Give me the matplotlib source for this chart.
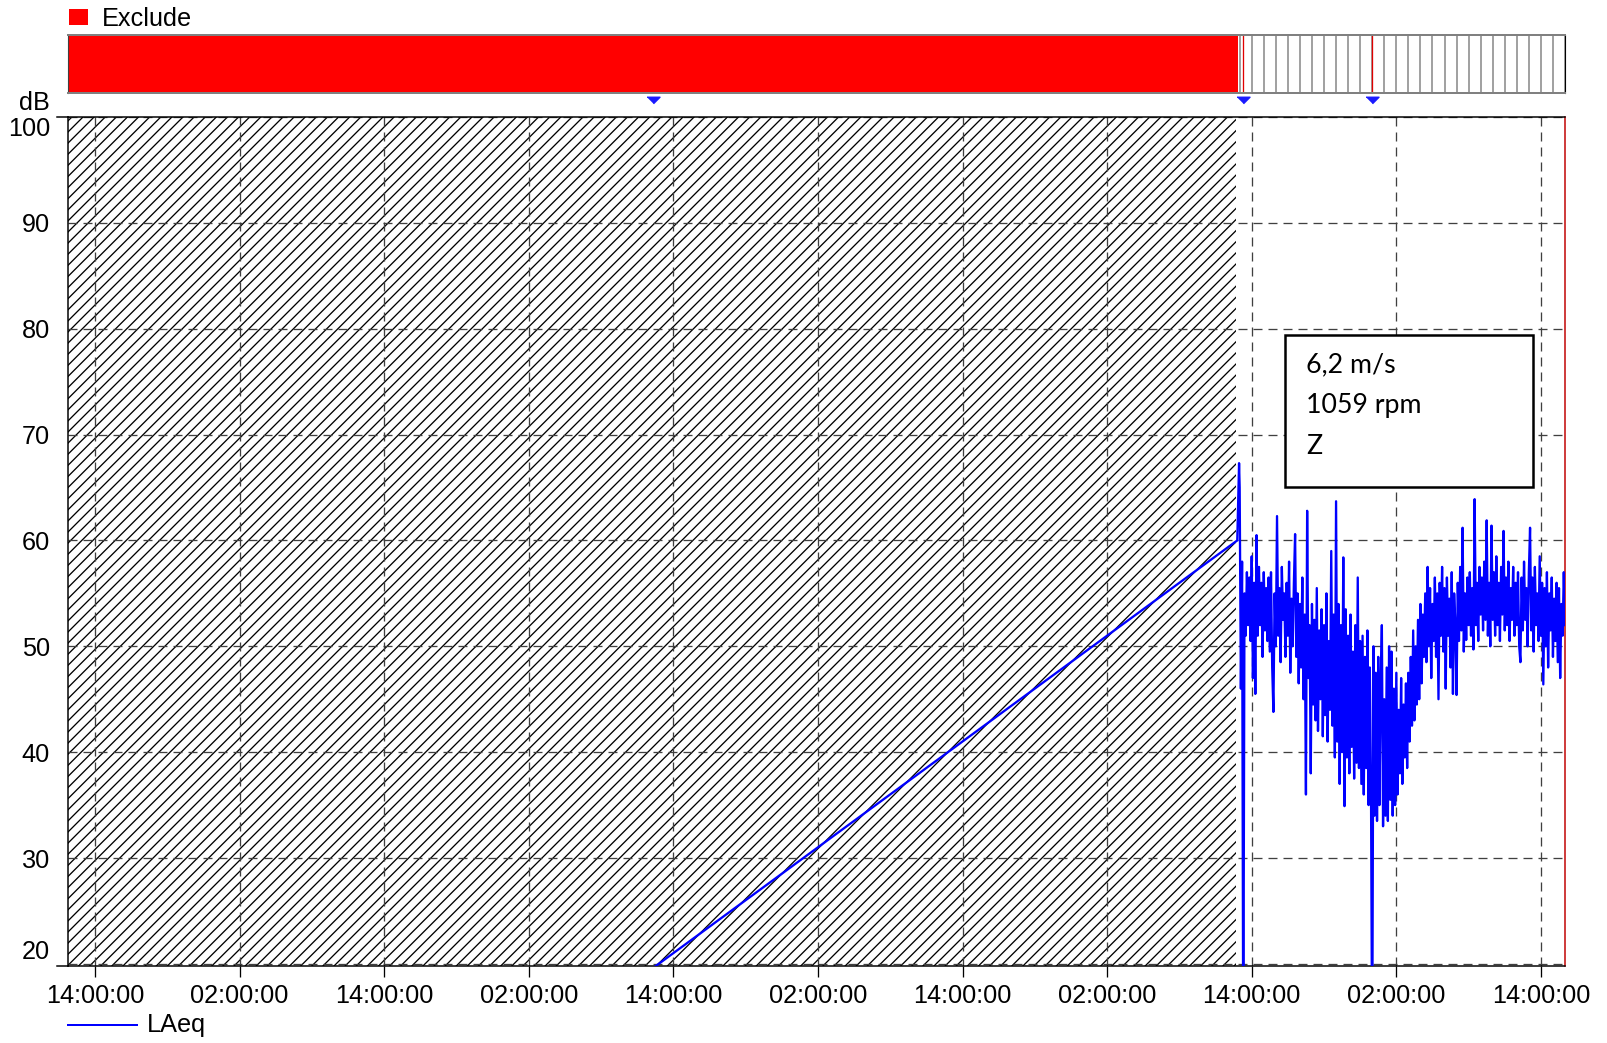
import numpy as np
import pandas as pd
import matplotlib
matplotlib.use('Agg')
import matplotlib.pyplot as plt
import matplotlib.dates as mdates
from matplotlib.patches import Rectangle
from matplotlib.lines import Line2D

# ---- data -------------------------------------------------------------
# hours counted from the first labelled 14:00:00 tick
view_hours = [-2.24, 122.0]
exclude_hours = [-2.24, 94.85]      # red "Exclude" block in the top strip
hatch_hours = [-2.24, 94.7]         # hatched (excluded) part of the plot
marker_hours = [46.3, 95.3, 106.0]  # blue markers / red event lines

# gap in the log: straight line up to where logging resumes
ramp_hours = [46.3, 94.8, 94.95]
ramp_db = [19.6, 60.0, 67.3]

# LAeq log, one value every 6 minutes from hour 95.0
log_start_hour = 95.0
log_step_hours = 0.1
laeq_db = [
    65.0, 46.0, 58.0, 10.0, 55.0, 51.0, 57.0, 52.0, 56.5, 50.5,
    58.5, 47.0, 56.0, 45.5, 60.5, 51.0, 57.5, 52.0, 56.0, 49.0,
    57.0, 51.5, 55.5, 50.5, 56.5, 49.5, 57.0, 48.0, 43.8, 55.0,
    50.0, 62.3, 51.0, 55.5, 48.5, 57.5, 52.5, 55.0, 49.0, 56.0,
    51.0, 58.0, 47.5, 54.5, 50.0, 56.0, 60.6, 49.0, 55.0, 46.5,
    54.0, 48.0, 56.5, 45.0, 53.0, 36.0, 62.8, 47.0, 52.0, 38.0,
    54.0, 44.5, 52.5, 43.0, 55.5, 42.0, 51.5, 45.0, 53.5, 41.5,
    52.0, 43.5, 55.0, 41.0, 50.5, 44.0, 59.0, 42.5, 53.0, 39.5,
    63.7, 41.0, 54.0, 37.0, 52.0, 40.0, 58.4, 34.9, 53.5, 39.5,
    51.0, 38.0, 53.0, 40.5, 49.5, 37.5, 52.0, 39.0, 56.5, 38.5,
    50.5, 37.0, 51.0, 36.0, 49.0, 38.5, 51.5, 35.0, 48.0, 36.5,
    10.0, 50.0, 34.0, 47.5, 33.5, 49.0, 35.0, 46.0, 52.0, 33.0,
    45.0, 34.0, 48.0, 33.5, 50.0, 35.5, 49.5, 34.0, 46.0, 35.0,
    47.5, 36.0, 44.0, 38.0, 47.0, 37.0, 44.5, 39.5, 46.5, 38.5,
    47.5, 41.0, 49.0, 42.5, 51.5, 43.0, 50.0, 44.5, 52.5, 45.0,
    54.0, 46.5, 53.0, 49.0, 55.0, 48.5, 57.5, 50.0, 55.5, 47.0,
    54.0, 50.5, 56.5, 49.0, 55.0, 45.0, 56.0, 51.0, 57.5, 49.5,
    55.5, 46.0, 56.5, 51.0, 54.5, 48.0, 57.0, 45.5, 55.0, 52.0,
    45.4, 56.0, 50.5, 57.5, 51.5, 61.2, 49.5, 55.0, 50.6, 56.5,
    52.0, 57.0, 51.0, 55.5, 49.7, 63.9, 52.0, 56.0, 50.5, 57.5,
    53.0, 56.5, 51.5, 58.0, 52.5, 61.9, 51.0, 56.0, 50.0, 61.4,
    52.5, 57.0, 51.0, 58.5, 52.0, 56.0, 50.5, 57.5, 53.0, 60.9,
    51.5, 56.5, 52.0, 58.0, 50.5, 55.5, 52.5, 57.5, 51.0, 56.0,
    52.0, 57.0, 50.0, 48.5, 56.5, 51.5, 58.0, 52.5, 55.5, 50.0,
    57.0, 61.2, 51.5, 56.5, 49.5, 57.5, 52.0, 55.0, 50.5, 58.5,
    51.0, 56.0, 46.4, 55.5, 50.0, 57.0, 48.0, 55.0, 51.5, 56.5,
    49.0, 54.5, 50.5, 56.0, 48.5, 55.5, 47.0, 54.0, 51.0, 57.0,
    52.0,
]

y_ticks = [20, 30, 40, 50, 60, 70, 80, 90, 100]
note_lines = ['6,2 m/s', '1059 rpm', 'Z']

# ---- helpers ----------------------------------------------------------
W, H, DPI = 1607, 1043, 100
start = pd.Timestamp('2021-06-07 14:00:00')


def at(hours):
    return start + pd.to_timedelta(np.asarray(hours, dtype=float), unit='h')


def pt(px):
    # pixel size -> points
    return px * 72 / DPI


def fx(x):
    return x / W


def fy(y):
    return 1 - y / H


plt.rcParams['font.family'] = ['Liberation Sans', 'DejaVu Sans']
plt.rcParams['hatch.linewidth'] = pt(1.3)
plt.rcParams['lines.scale_dashes'] = False

BLUE = '#0000ff'
RED = '#ff0000'
FS = pt(25.3)

fig = plt.figure(figsize=(W / DPI, H / DPI), dpi=DPI)

# ---- top strip ----------------------------------------------------------
bar = fig.add_axes([fx(68), fy(93), fx(1565) - fx(68), (93 - 35) / H])
bar.set_xlim(at(view_hours))
bar.set_ylim(0, 1)
bar.set_axisbelow(True)
bar.xaxis.set_major_locator(mdates.HourLocator())
bar.grid(True, axis='x', color='#8c8c8c', lw=pt(1.6), linestyle='-')
bar.tick_params(length=0, labelbottom=False, labelleft=False)
bar.set_yticks([])
bar.axvspan(*at(exclude_hours), color=RED, lw=0, zorder=2)
for h in marker_hours:
    bar.axvline(at(h), color='#e00000', lw=pt(1.3), zorder=1.5)
bar.plot(at(marker_hours), [-0.12] * len(marker_hours), linestyle='none',
         marker=[(-1, 0.5), (1, 0.5), (0, -0.5)], markersize=pt(13),
         color='#1a1aff', clip_on=False, transform=bar.get_xaxis_transform())
for side in ['top', 'bottom']:
    bar.spines[side].set_color('#808080')
    bar.spines[side].set_linewidth(pt(2))
bar.spines['left'].set_color('#404040')
bar.spines['right'].set_color('black')

# ---- main plot ----------------------------------------------------------
ax = fig.add_axes([fx(68), fy(966), fx(1565) - fx(68), (966 - 117) / H])
ax.set_xlim(at(view_hours))
ax.set_ylim(19.8, 100)

ax.axvspan(*at(hatch_hours), facecolor='none', edgecolor='black',
           hatch='///', lw=0, zorder=0.5)

log_hours = log_start_hour + log_step_hours * np.arange(len(laeq_db))
all_hours = np.concatenate([ramp_hours, log_hours])
all_db = ramp_db + laeq_db
ax.plot(at(all_hours), all_db, color=BLUE, lw=pt(2.3), zorder=3)

ax.xaxis.set_major_locator(mdates.HourLocator(byhour=[2, 14]))
ax.xaxis.set_major_formatter(mdates.DateFormatter('%H:%M:%S'))
ax.set_yticks(y_ticks)
ax.grid(True, color='#404040', lw=pt(1.3), linestyle=(0, (pt(9), pt(6))))
ax.tick_params(axis='x', length=pt(11), width=pt(1.3), pad=pt(7),
               labelsize=FS, direction='out')
ax.tick_params(axis='y', length=0, pad=pt(18), labelsize=FS)
ylabels = ax.get_yticklabels()
ylabels[0].set_va('bottom')
ylabels[-1].set_va('top')

for side in ['left', 'top', 'bottom']:
    ax.spines[side].set_color('black')
    ax.spines[side].set_linewidth(pt(1.5))
ax.spines['right'].set_color('#c00000')
ax.spines['right'].set_linewidth(pt(1.5))

# short lines left of the plot at top and bottom
for y in [117, 966]:
    fig.add_artist(Line2D([fx(57), fx(68)], [fy(y), fy(y)],
                          color='black', lw=pt(1.5)))

fig.text(fx(50), fy(103), 'dB', ha='right', va='center', fontsize=FS)

# legends
fig.add_artist(Rectangle((fx(69), fy(25)), fx(88) - fx(69), 16 / H,
                         color=RED, lw=0, transform=fig.transFigure))
fig.text(fx(102), fy(19), 'Exclude', va='center', fontsize=FS)
fig.add_artist(Line2D([fx(68), fx(137)], [fy(1025), fy(1025)],
                      color=BLUE, lw=pt(2)))
fig.text(fx(147), fy(1025), 'LAeq', va='center', fontsize=FS)

# note box
fig.add_artist(Rectangle((fx(1285), fy(487)), fx(1533) - fx(1285),
                         (487 - 335) / H, facecolor='white',
                         edgecolor='black', lw=pt(2.5),
                         transform=fig.transFigure))
for i, line in enumerate(note_lines):
    fig.text(fx(1306), fy(365 + 41 * i), line, va='center',
             fontsize=pt(26.8), family=['Lato', 'DejaVu Sans'])

fig.savefig('out.png', dpi=DPI)
